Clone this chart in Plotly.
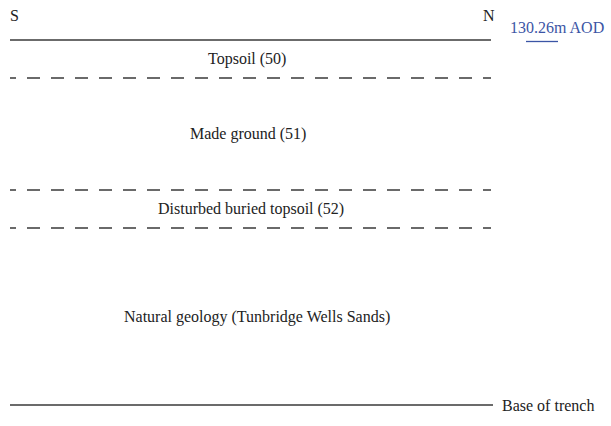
import plotly.graph_objects as go

# Section data (depth units on the drawing, left-to-right extent)
section_x = [10, 491]
boundary_depths = [40, 78, 190, 228, 405]
boundary_styles = ["solid", "dashed", "dashed", "dashed", "solid"]
layer_names = ["Topsoil (50)", "Made ground (51)", "Disturbed buried topsoil (52)",
               "Natural geology (Tunbridge Wells Sands)"]
layer_label_x = [247, 248, 251, 257]
level_label = "130.26m AOD"
base_label = "Base of trench"

W, H = 611, 426
fig = go.Figure()

dash_pattern = "6px,11px," + ",".join(["13px,11px"] * 30)
line_col = "#3a3a3a"

for d, s in zip(boundary_depths, boundary_styles):
    x1 = section_x[1] + (2 if d == boundary_depths[-1] else 0)
    fig.add_trace(go.Scatter(
        x=[section_x[0], x1], y=[d, d], mode="lines",
        line=dict(color=line_col, width=1.3, dash=(dash_pattern if s == "dashed" else "solid")),
        hoverinfo="skip", showlegend=False))

font = dict(family="Liberation Serif, Times New Roman, serif", size=16, color="#222222")

for i, name in enumerate(layer_names):
    ymid = (boundary_depths[i] + boundary_depths[i + 1]) / 2
    fig.add_annotation(x=layer_label_x[i], y=ymid, text=name, showarrow=False,
                       font=font, xanchor="center", yanchor="middle")

fig.add_annotation(x=8, y=15, text="S", showarrow=False, font=font, xanchor="left", yanchor="middle")
fig.add_annotation(x=497, y=15, text="N", showarrow=False, font=font, xanchor="right", yanchor="middle")
fig.add_annotation(x=508, y=27, text=level_label, showarrow=False,
                   font=dict(family=font["family"], size=16, color="#3b55a5"),
                   xanchor="left", yanchor="middle")
fig.add_trace(go.Scatter(x=[526, 558], y=[41.5, 41.5], mode="lines",
                         line=dict(color="#3b55a5", width=1.3),
                         hoverinfo="skip", showlegend=False))
fig.add_annotation(x=500, y=boundary_depths[-1], text=base_label, showarrow=False,
                   font=font, xanchor="left", yanchor="middle")

fig.update_layout(
    width=W, height=H, margin=dict(l=0, r=0, t=0, b=0),
    paper_bgcolor="white", plot_bgcolor="white",
    xaxis=dict(range=[0, W], visible=False, fixedrange=True),
    yaxis=dict(range=[H, 0], visible=False, fixedrange=True),
)
fig.write_html("out.html", config={"displayModeBar": False},
               post_script="document.body.style.margin='0';document.body.style.overflow='hidden';")
